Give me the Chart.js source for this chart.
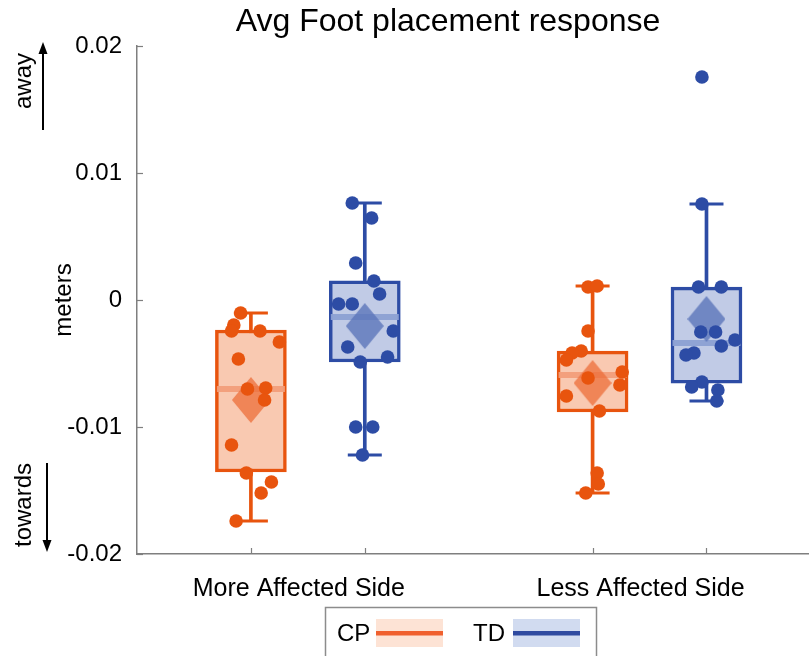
<!DOCTYPE html>
<html><head><meta charset="utf-8">
<script src="https://cdn.jsdelivr.net/npm/chart.js@4/dist/chart.umd.min.js"></script>
<style>html,body{margin:0;padding:0;background:#fff;}#wrap{width:809px;height:656px;}</style>
</head><body><div id="wrap"><canvas id="c" width="809" height="656"></canvas></div>
<script>
// ---------- data ----------
const chartTitle = 'Avg Foot placement response';
const categories = ['More Affected Side', 'Less Affected Side'];
const seriesNames = ['CP', 'TD'];
const yTicks = [-0.02, -0.01, 0, 0.01, 0.02];
const yAxisLabel = 'meters';
const upLabel = 'away';
const downLabel = 'towards';

// individual subject values per category
const cpValues = [
  [-0.00102,-0.00197,-0.00244,-0.00244,-0.00331,-0.00465,-0.00701,-0.00693,-0.00787,-0.01142,-0.01362,-0.01433,-0.01520,-0.01740],
  [0.00102,0.00110,-0.00244,-0.00402,-0.00417,-0.00472,-0.00567,-0.00614,-0.00669,-0.00756,-0.00874,-0.01362,-0.01449,-0.01520]
];
const cpJitter = [
  [-0.09,-0.15,-0.17,0.08,0.25,-0.11,-0.03,0.13,0.12,-0.17,-0.04,0.18,0.09,-0.13],
  [-0.04,0.04,-0.04,-0.10,-0.18,-0.23,0.26,-0.04,0.24,-0.23,0.06,0.04,0.05,-0.06]
];
const tdValues = [
  [0.00764,0.00646,0.00291,0.00150,0.00047,-0.00031,-0.00031,-0.00244,-0.00370,-0.00449,-0.00488,-0.01000,-0.01000,-0.01220],
  [0.01756,0.00756,0.00102,0.00102,-0.00252,-0.00252,-0.00315,-0.00362,-0.00417,-0.00433,-0.00646,-0.00685,-0.00709,-0.00795]
];
const tdJitter = [
  [-0.11,0.06,-0.08,0.08,0.13,-0.23,-0.11,0.25,-0.15,0.20,-0.04,-0.08,0.07,-0.02],
  [-0.04,-0.04,-0.07,0.13,-0.05,0.08,0.25,0.13,-0.11,-0.18,-0.04,-0.13,0.10,0.09]
];
// box statistics per category
const cpQ1 = [-0.01354, -0.00882];
const cpQ3 = [-0.00236, -0.00402];
const cpMedian = [-0.00700, -0.00590];
const cpMean = [-0.00787, -0.00654];
const cpWhiskerLow = [-0.01740, -0.01520];
const cpWhiskerHigh = [-0.00102, 0.00110];
const tdQ1 = [-0.00488, -0.00654];
const tdQ3 = [0.00150, 0.00102];
const tdMedian = [-0.00134, -0.00339];
const tdMean = [-0.00205, -0.00150];
const tdWhiskerLow = [-0.01220, -0.00795];
const tdWhiskerHigh = [0.00764, 0.00756];

// ---------- styles ----------
const styles = [
  {edge:'#e8540e', fill:'#f9c9b1', median:'rgba(242,158,122,0.95)', mean:'rgba(236,110,58,0.75)', legFill:'#fde3d5', legLine:'#f0602e'},
  {edge:'#2d4ca5', fill:'#c1cbe6', median:'rgba(140,160,211,0.95)', mean:'rgba(90,115,185,0.78)', legFill:'#d1dbf0', legLine:'#2f4aa0'}
];
const FONT = '"Liberation Sans", Arial, Helvetica, sans-serif';

const seriesData = [
  {values: cpValues, jitter: cpJitter, q1: cpQ1, q3: cpQ3, med: cpMedian, mean: cpMean, lo: cpWhiskerLow, hi: cpWhiskerHigh},
  {values: tdValues, jitter: tdJitter, q1: tdQ1, q3: tdQ3, med: tdMedian, mean: tdMean, lo: tdWhiskerLow, hi: tdWhiskerHigh}
];
// axis position of each box: categories spaced 3 apart, series side by side
const pos = (g, s) => 1 + 3 * g + s;
const groupCenter = g => (pos(g, 0) + pos(g, seriesNames.length - 1)) / 2;

function diamondImage(color, w, h) {
  const c = document.createElement('canvas');
  c.width = w; c.height = h;
  const g = c.getContext('2d');
  g.fillStyle = color;
  g.beginPath();
  g.moveTo(w / 2, 0); g.lineTo(w, h / 2); g.lineTo(w / 2, h); g.lineTo(0, h / 2);
  g.closePath(); g.fill();
  return c;
}

const datasets = [];
seriesData.forEach((sd, s) => {
  const st = styles[s];
  const gs = categories.map((_, g) => g);
  datasets.push({type:'bar', label: seriesNames[s] + ' whisker', order: 60, grouped:false, barThickness: 3,
    data: gs.map(g => ({x: pos(g, s), y: [sd.lo[g], sd.hi[g]]})), backgroundColor: st.edge, borderWidth: 0});
  datasets.push({type:'bar', label: seriesNames[s], order: 50, grouped:false, barThickness: 71,
    data: gs.map(g => ({x: pos(g, s), y: [sd.q1[g], sd.q3[g]]})), backgroundColor: st.fill,
    borderColor: st.edge, borderWidth: 3.5, borderSkipped: false});
  datasets.push({type:'scatter', label: seriesNames[s] + ' caps', order: 40,
    data: gs.flatMap(g => [{x: pos(g, s), y: sd.lo[g]}, {x: pos(g, s), y: sd.hi[g]}]),
    pointStyle: 'line', pointRadius: 17, borderColor: st.edge, borderWidth: 3});
  datasets.push({type:'scatter', label: seriesNames[s] + ' median', order: 30,
    data: gs.map(g => ({x: pos(g, s), y: sd.med[g]})),
    pointStyle: 'line', pointRadius: 34, borderColor: st.median, borderWidth: 6});
  datasets.push({type:'scatter', label: seriesNames[s] + ' mean', order: 20,
    data: gs.map(g => ({x: pos(g, s), y: sd.mean[g]})),
    pointStyle: diamondImage(st.mean, 38, 46), pointRadius: 20});
  datasets.push({type:'scatter', label: seriesNames[s] + ' subjects', order: 10,
    data: gs.flatMap(g => sd.values[g].map((v, i) => ({x: pos(g, s) + sd.jitter[g][i], y: v}))),
    pointRadius: 6.8, backgroundColor: st.edge, borderWidth: 0});
});

const deco = {
  id: 'deco',
  afterDraw(chart) {
    const {ctx, chartArea: a, scales: {x, y}} = chart;
    ctx.save();
    // inward tick marks
    ctx.strokeStyle = '#7f7f7f'; ctx.lineWidth = 1.2;
    categories.forEach((_, g) => seriesNames.forEach((__, s) => {
      const px = Math.round(x.getPixelForValue(pos(g, s))) + 0.5;
      ctx.beginPath(); ctx.moveTo(px, a.bottom); ctx.lineTo(px, a.bottom - 6); ctx.stroke();
    }));
    yTicks.forEach(v => {
      const py = Math.round(y.getPixelForValue(v)) + 0.5;
      ctx.beginPath(); ctx.moveTo(a.left, py); ctx.lineTo(a.left + 6, py); ctx.stroke();
    });
    // title
    ctx.fillStyle = '#000';
    ctx.font = '32px ' + FONT;
    ctx.textAlign = 'center'; ctx.textBaseline = 'middle';
    ctx.fillText(chartTitle, 448, 22);
    // direction labels
    ctx.font = '24px ' + FONT;
    const rot = (t, cx, cy) => { ctx.save(); ctx.translate(cx, cy); ctx.rotate(-Math.PI / 2); ctx.fillText(t, 0, 0); ctx.restore(); };
    rot(upLabel, 24, 81);
    rot(downLabel, 24, 505);
    ctx.strokeStyle = '#000'; ctx.fillStyle = '#000'; ctx.lineWidth = 2;
    ctx.beginPath(); ctx.moveTo(43, 130); ctx.lineTo(43, 52); ctx.stroke();
    ctx.beginPath(); ctx.moveTo(43, 42); ctx.lineTo(38.5, 54); ctx.lineTo(47.5, 54); ctx.closePath(); ctx.fill();
    ctx.beginPath(); ctx.moveTo(47, 463); ctx.lineTo(47, 542); ctx.stroke();
    ctx.beginPath(); ctx.moveTo(47, 552); ctx.lineTo(42.5, 540); ctx.lineTo(51.5, 540); ctx.closePath(); ctx.fill();
    // legend
    ctx.strokeStyle = '#8c8c8c'; ctx.lineWidth = 1.5;
    ctx.strokeRect(325.5, 607.5, 271, 62);
    ctx.textAlign = 'left';
    const legX = [[337, 376], [473, 513]];
    seriesNames.forEach((n, s) => {
      ctx.fillStyle = '#000';
      ctx.fillText(n, legX[s][0], 634);
      ctx.fillStyle = styles[s].legFill; ctx.fillRect(legX[s][1], 619, 67, 28);
      ctx.fillStyle = styles[s].legLine; ctx.fillRect(legX[s][1], 631, 67, 4.5);
    });
    ctx.restore();
  }
};

new Chart(document.getElementById('c'), {
  type: 'scatter',
  data: {datasets},
  plugins: [deco],
  options: {
    responsive: false, animation: false, events: [],
    layout: {padding: {top: 46, right: 0, bottom: 0, left: 0}, autoPadding: false},
    plugins: {legend: {display: false}, tooltip: {enabled: false}, title: {display: false}},
    scales: {
      x: {type: 'linear', min: 0, max: 5.9, offset: false,
        grid: {display: false, drawTicks: false},
        border: {display: true, color: '#7f7f7f', width: 1.5},
        afterBuildTicks: s => { s.ticks = categories.map((_, g) => ({value: groupCenter(g)})); },
        ticks: {autoSkip: false, maxRotation: 0, padding: 20, labelOffset: -9, color: '#000',
          font: {family: FONT, size: 25}, callback: (v, i) => categories[i]},
        afterFit: s => { s.height = 102; s.paddingLeft = 0; s.paddingRight = 0; }
      },
      y: {type: 'linear', min: -0.02, max: 0.02,
        grid: {display: false, drawTicks: false},
        border: {display: true, color: '#7f7f7f', width: 1.5},
        afterBuildTicks: s => { s.ticks = yTicks.map(v => ({value: v})); },
        ticks: {padding: 15, color: '#000', font: {family: FONT, size: 24},
          callback: v => String(Number(Number(v).toFixed(3)))},
        title: {display: true, text: yAxisLabel, color: '#000', font: {family: FONT, size: 24}, padding: {top: 50, bottom: 0}},
        afterFit: s => { s.width = 137; s.paddingTop = 0; s.paddingBottom = 0; }
      }
    }
  }
});
</script>
</body></html>
